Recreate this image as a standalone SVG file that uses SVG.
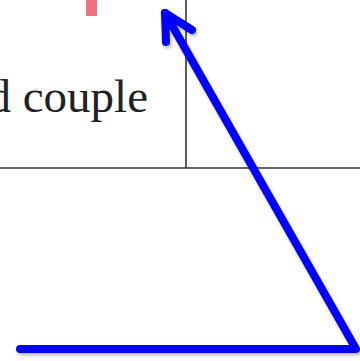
<svg xmlns="http://www.w3.org/2000/svg" width="360" height="361" viewBox="0 0 360 361">
  <style>
    .rule { stroke: #333; stroke-width: 1.6; fill: none; }
    .arrow { stroke: #0000ff; stroke-width: 8; fill: none; stroke-linecap: round; stroke-linejoin: round; }
    .lbl { font-family: "Liberation Serif", "DejaVu Serif", serif; font-size: 47px; fill: #222; }
  </style>
  <defs>
    <filter id="shadow" x="-10%" y="-10%" width="120%" height="120%">
      <feDropShadow dx="1.5" dy="2.5" stdDeviation="1.5" flood-color="#000" flood-opacity="0.25"/>
    </filter>
  </defs>
  <rect width="360" height="361" fill="#fff"/>
  <g id="marker-red">
    <rect x="86" y="0" width="11" height="16" fill="#f0707f"/>
  </g>
  <g id="label">
    <text class="lbl" x="148" y="112" text-anchor="end">d couple</text>
  </g>
  <g id="rules">
    <line class="rule" x1="186" y1="0" x2="186" y2="168"/>
    <line class="rule" x1="0" y1="168" x2="360" y2="168"/>
  </g>
  <g id="connectors" filter="url(#shadow)">
    <path class="arrow" d="M20 349 L356 349 L165 13"/>
    <path class="arrow" d="M166 42 L165 13 L192 30"/>
  </g>
</svg>
